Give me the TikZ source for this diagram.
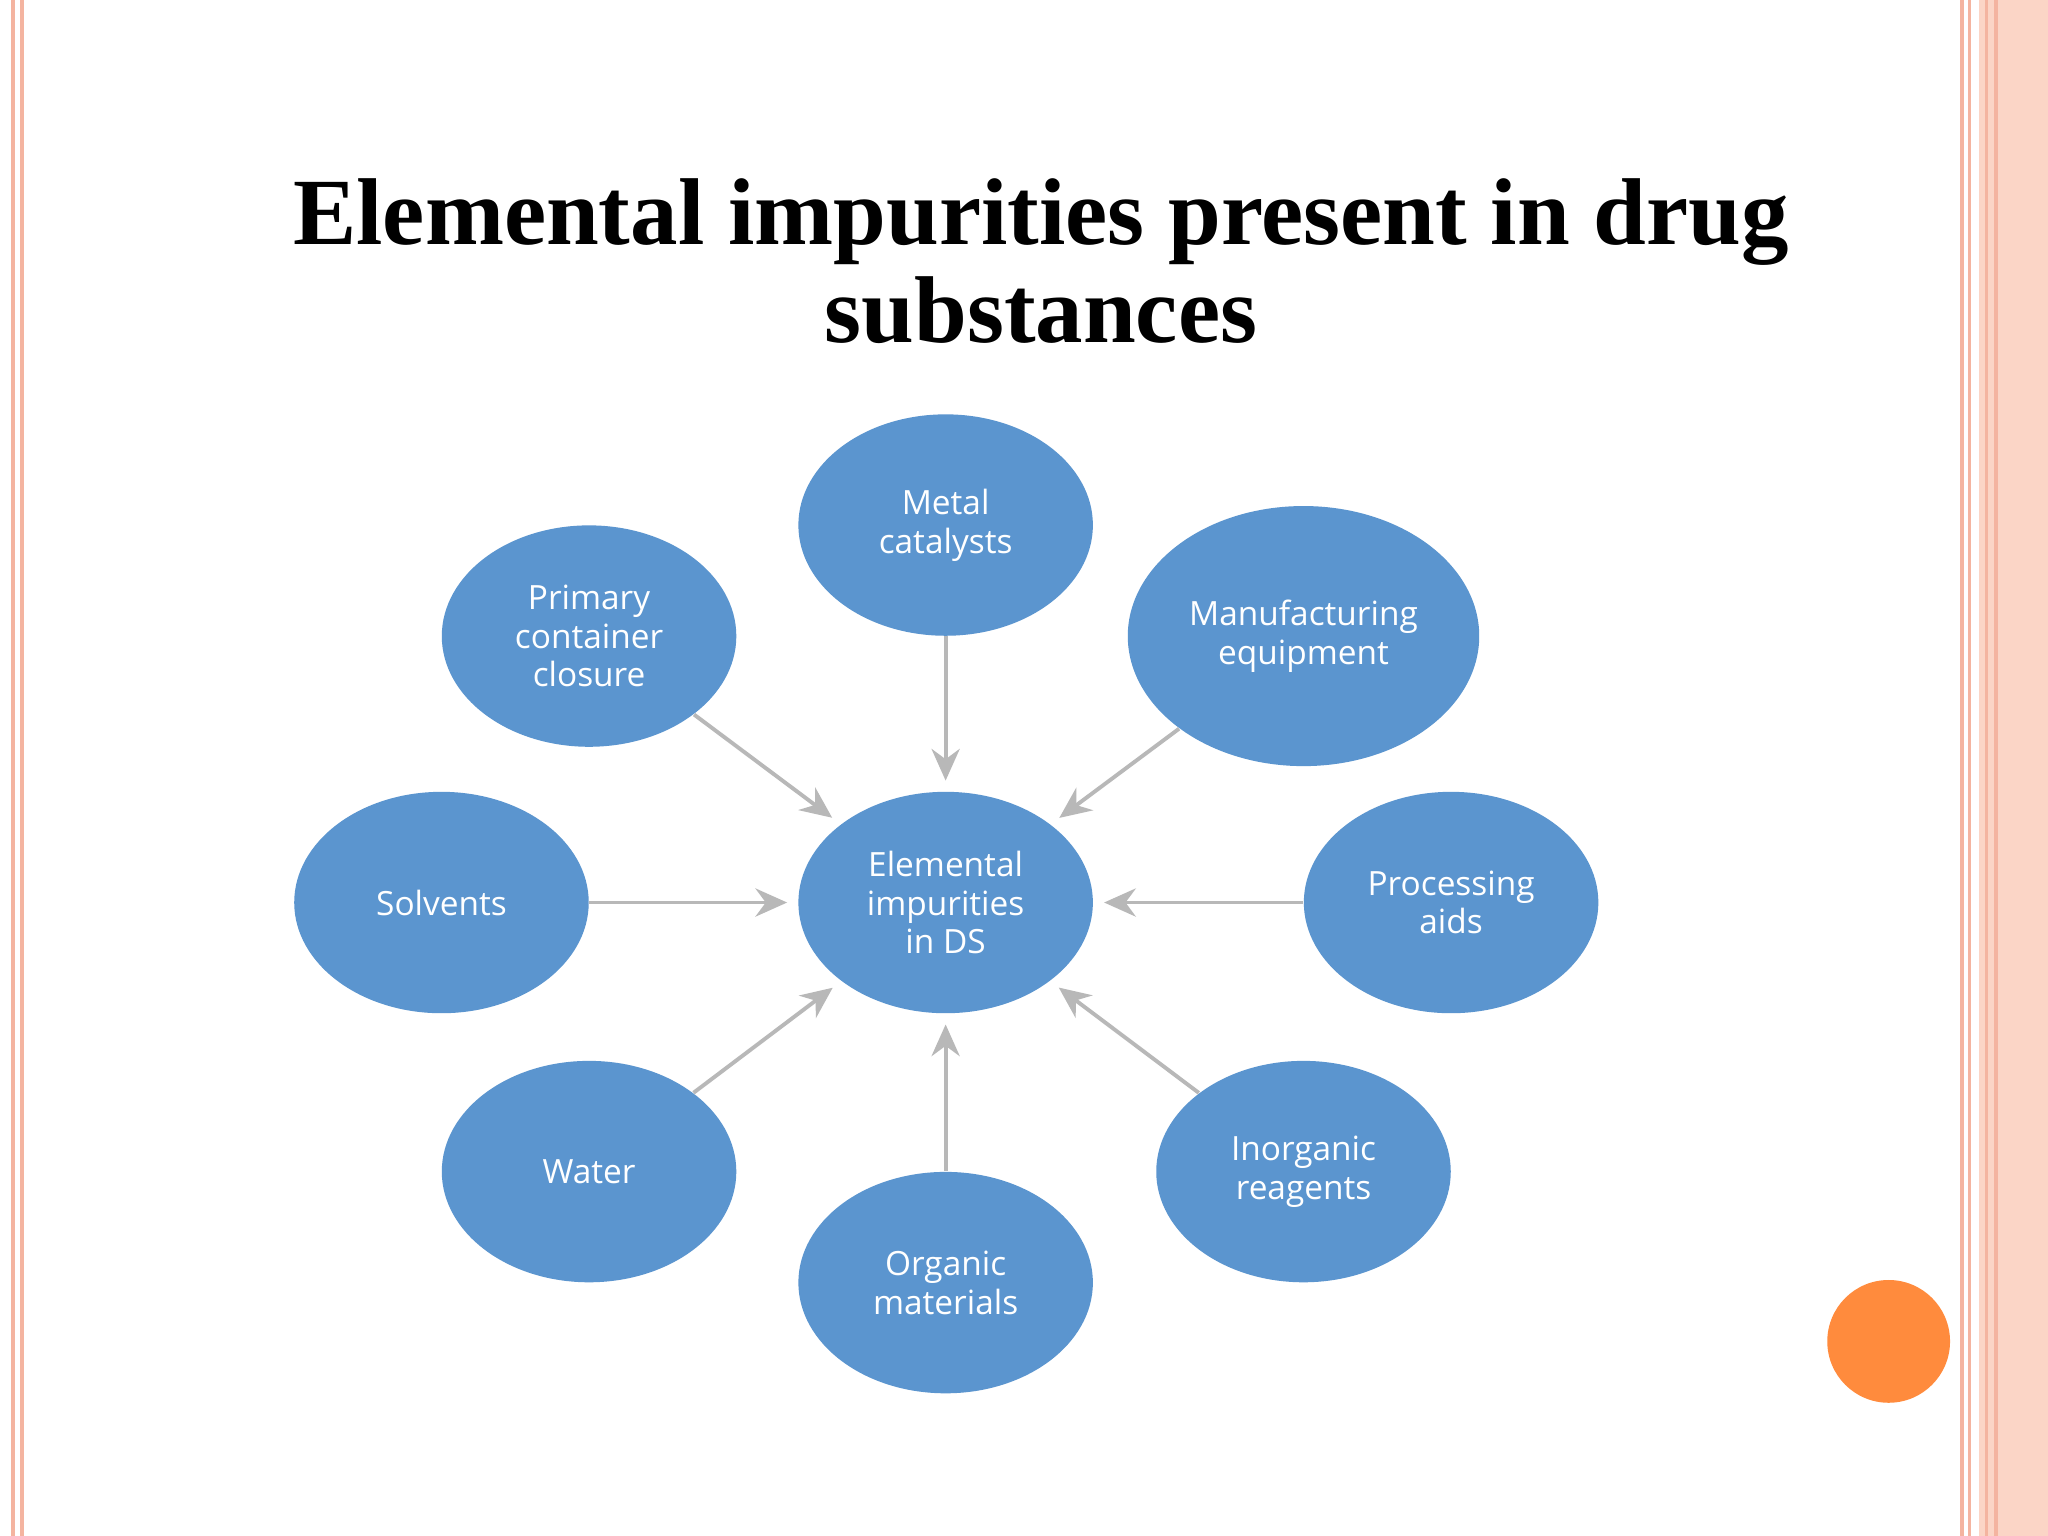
\documentclass[tikz,border=0pt]{standalone}
\usepackage{fontspec}
\setmainfont{Liberation Serif}
\newfontfamily\nodefont{Open Sans}
\usetikzlibrary{shapes.geometric,arrows.meta}
\definecolor{nblue}{HTML}{5B95CF}
\definecolor{salmon}{HTML}{F4B4A0}
\definecolor{peach}{HTML}{FBD5C6}
\definecolor{dot}{HTML}{FF8B3D}
\begin{document}
\begin{tikzpicture}[x=0.013061cm,y=-0.013061cm,
  bub/.style={ellipse,fill=nblue,minimum width=83.8pt,minimum height=63pt,inner sep=0,
    text=white,font=\nodefont\fontsize{9.5}{11}\selectfont,align=center},
  arr/.style={draw=black!28,line width=1.1pt,-{Stealth[length=9pt,width=8pt]},shorten >=3pt,shorten <=0pt}]
\useasboundingbox (0,0) rectangle (1568,1176);
\fill[white] (0,0) rectangle (1568,1176);
% borders
\draw[salmon,line width=1pt] (10,0)--(10,1176);
\draw[salmon,line width=1pt] (17,0)--(17,1176);
\fill[peach] (1515,0) rectangle (1568,1176);
\draw[salmon,line width=1.2pt] (1502,0)--(1502,1176);
\draw[salmon,line width=1pt] (1508,0)--(1508,1176);
\draw[salmon,line width=1pt] (1521,0)--(1521,1176);
\draw[salmon,line width=1pt] (1528,0)--(1528,1176);
\fill[dot] (1446,1027) circle (47);
% title
\node[font=\bfseries\fontsize{27}{28}\selectfont,align=center] (title) at (797,200)
  {Elemental impurities present in drug\\substances};
% nodes
\node[bub] (c) at (724,691) {Elemental\\impurities\\in DS};
\node[bub] (metal) at (724,402) {Metal\\catalysts};
\node[bub] (prim) at (451,487) {Primary\\container\\closure};
\node[bub,minimum width=100pt,minimum height=74pt] (manu) at (998,487) {Manufacturing\\equipment};
\node[bub] (solv) at (338,691) {Solvents};
\node[bub] (proc) at (1111,691) {Processing\\aids};
\node[bub] (water) at (451,897) {Water};
\node[bub] (org) at (724,982) {Organic\\materials};
\node[bub] (inorg) at (998,897) {Inorganic\\reagents};
% arrows
\foreach \n in {metal,prim,manu,solv,proc,water,org,inorg}
  \draw[arr] (\n) -- (c);
\end{tikzpicture}
\end{document}
